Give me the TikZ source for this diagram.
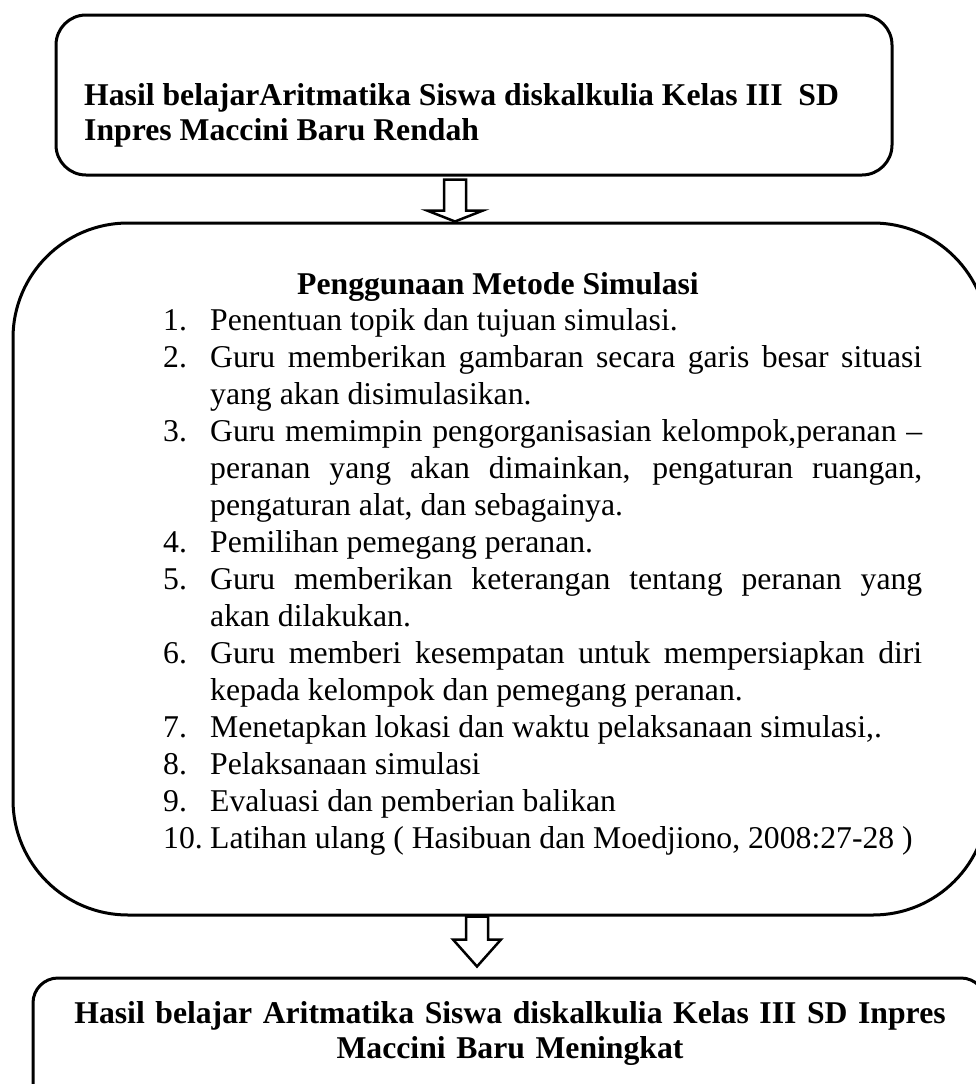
\documentclass[tikz,border=0pt]{standalone}
\usepackage{fontspec}
\setmainfont{Liberation Serif}
\usetikzlibrary{positioning,calc}
\tikzset{
  kotak/.style={draw, line width=3pt, inner sep=0pt},
  panah/.style={draw, fill=white, line width=2.5pt, line join=miter},
  judul/.style={inner sep=0pt, font=\bfseries\fontsize{31.7}{35}\selectfont},
  isi/.style={inner sep=0pt, font=\fontsize{31.7}{37}\selectfont},
}
\newcommand{\spasi}{\spaceskip=0.25em plus 0.3em minus 0.08em\relax}
\newcommand{\nomor}[1]{\hangindent=47pt\hangafter=1\noindent\makebox[47pt][l]{#1}}
\newcommand{\jbaris}[1]{\hbox to 712pt{\spasi #1}\break}

\begin{document}
\begin{tikzpicture}[x=1pt, y=-1pt]
  \path[use as bounding box, fill=white] (0,0) rectangle (976,1084);

  % kotak-kotak
  \node[kotak, rounded corners=30pt, minimum width=836pt, minimum height=160pt] (awal) at (474,95) {};
  \node[kotak, rounded corners=115pt, minimum width=975pt, minimum height=692pt] (metode) at (500.5,569) {};
  \node[kotak, rounded corners=25pt, minimum width=953pt, minimum height=137pt] (hasil) at (509.5,1046.5) {};

  % teks
  \node[judul, anchor=base west, text width=820pt, align=flush left] (teksawal) at (84,105)
    {\spasi Hasil belajarAritmatika Siswa diskalkulia Kelas III\ \ SD\\Inpres Maccini Baru Rendah};
  \node[judul, anchor=base] (judulmetode) at (498,294) {Penggunaan Metode Simulasi};
  \node[isi, anchor=base west, text width=759pt, align=flush left] (langkah) at (163,330) {%
    \spasi
    \nomor{1.}Penentuan topik dan tujuan simulasi.\par
    \nomor{2.}\jbaris{Guru memberikan gambaran secara garis besar situasi}yang akan disimulasikan.\par
    \nomor{3.}\jbaris{Guru memimpin pengorganisasian kelompok,peranan --}\jbaris{peranan yang akan dimainkan, pengaturan ruangan,}pengaturan alat, dan sebagainya.\par
    \nomor{4.}Pemilihan pemegang peranan.\par
    \nomor{5.}\jbaris{Guru memberikan keterangan tentang peranan yang}akan dilakukan.\par
    \nomor{6.}\jbaris{Guru memberi kesempatan untuk mempersiapkan diri}kepada kelompok dan pemegang peranan.\par
    \nomor{7.}Menetapkan lokasi dan waktu pelaksanaan simulasi,.\par
    \nomor{8.}Pelaksanaan simulasi\par
    \nomor{9.}Evaluasi dan pemberian balikan\par
    \nomor{10.}\mbox{Latihan ulang ( Hasibuan dan Moedjiono, 2008:27-28 )}\par};
  \node[judul, anchor=base, text width=953pt, align=center] (tekshasil) at (510,1023)
    {Hasil belajar Aritmatika Siswa diskalkulia Kelas III SD Inpres\\Maccini Baru Meningkat};

  % panah blok
  \coordinate (p1a) at ([xshift=-19pt,yshift=-3pt]awal.south);
  \coordinate (p1b) at (p1a |- metode.north);
  \draw[panah] let \p1=(p1a), \p2=(p1b) in
    (\x1-11pt,\y1) -- (\x1-11pt,\y2+11pt) -- (\x1-28pt,\y2+11pt) -- (\x1,\y2)
    -- (\x1+28pt,\y2+11pt) -- (\x1+11pt,\y2+11pt) -- (\x1+11pt,\y1) -- cycle;

  \coordinate (p2a) at ([xshift=-23.5pt]metode.south);
  \coordinate (p2b) at (p2a |- hasil.north);
  \draw[panah] let \p1=(p2a), \p2=(p2b) in
    (\x1-11pt,\y1) -- (\x1-11pt,\y2+37pt) -- (\x1-24pt,\y2+37pt) -- (\x1,\y2+10pt)
    -- (\x1+24pt,\y2+37pt) -- (\x1+11pt,\y2+37pt) -- (\x1+11pt,\y1) -- cycle;
\end{tikzpicture}
\end{document}
